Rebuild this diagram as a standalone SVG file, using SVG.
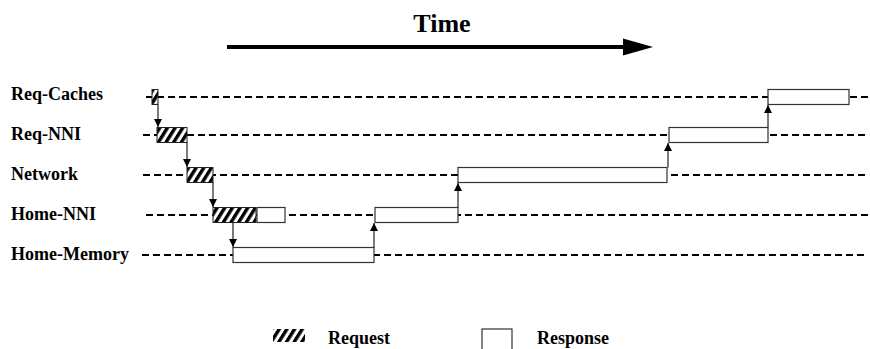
<svg xmlns="http://www.w3.org/2000/svg" width="870" height="349" viewBox="0 0 870 349">
  <defs>
    <pattern id="hatch" patternUnits="userSpaceOnUse" width="6.5" height="10" patternTransform="rotate(32)">
      <rect x="0" y="0" width="6.5" height="10" fill="#fff"/>
      <rect x="0" y="0" width="3.4" height="10" fill="#000"/>
    </pattern>
    <marker id="head" markerUnits="userSpaceOnUse" markerWidth="8" markerHeight="8" refX="8" refY="4" orient="auto">
      <path d="M0,0 L8,4 L0,8 z" fill="#000"/>
    </marker>
  </defs>
  <style>
    .lbl { font-family: "Liberation Serif", "Times New Roman", serif; font-weight: bold; font-size: 18px; fill: #000; }
    .title { font-family: "Liberation Serif", "Times New Roman", serif; font-weight: bold; font-size: 26px; fill: #000; }
    .lane { stroke: #000; stroke-width: 2; stroke-dasharray: 7 4; fill: none; }
    .req { fill: url(#hatch); stroke: #222; stroke-width: 1; }
    .resp { fill: #fff; stroke: #333; stroke-width: 1.2; }
    .conn { stroke: #222; stroke-width: 1.2; fill: none; marker-end: url(#head); }
  </style>

  <rect width="870" height="349" fill="#fff"/>

  <!-- time axis -->
  <g id="time-axis">
    <text class="title" x="442" y="32" text-anchor="middle">Time</text>
    <line x1="227" y1="47" x2="626" y2="47" stroke="#000" stroke-width="4"/>
    <polygon points="623,38.5 653,47 623,55.5" fill="#000"/>
  </g>

  <!-- lane labels -->
  <g id="labels">
    <text class="lbl" x="11" y="100">Req-Caches</text>
    <text class="lbl" x="11" y="140">Req-NNI</text>
    <text class="lbl" x="11" y="180">Network</text>
    <text class="lbl" x="11" y="220">Home-NNI</text>
    <text class="lbl" x="11" y="260">Home-Memory</text>
  </g>

  <!-- lanes -->
  <g id="lanes">
    <line class="lane" x1="146" y1="97" x2="868" y2="97"/>
    <line class="lane" x1="143" y1="135" x2="868" y2="135"/>
    <line class="lane" x1="143" y1="175" x2="868" y2="175"/>
    <line class="lane" x1="146" y1="215" x2="868" y2="215"/>
    <line class="lane" x1="142" y1="255" x2="868" y2="255"/>
  </g>

  <!-- request phases -->
  <g id="req-caches-request"><rect class="req" x="152" y="89.5" width="6" height="15"/></g>
  <g id="req-nni-request"><rect class="req" x="157" y="127.5" width="30" height="15"/></g>
  <g id="network-request"><rect class="req" x="187" y="167.5" width="26" height="15"/></g>
  <g id="home-nni-request"><rect class="req" x="213" y="207.5" width="43" height="15"/></g>

  <!-- response phases -->
  <g id="home-nni-response-a"><rect class="resp" x="257" y="207.5" width="28" height="15"/></g>
  <g id="home-memory-response"><rect class="resp" x="233" y="247.5" width="141" height="15"/></g>
  <g id="home-nni-response-b"><rect class="resp" x="375" y="207.5" width="83" height="15"/></g>
  <g id="network-response"><rect class="resp" x="458" y="167.5" width="209" height="15"/></g>
  <g id="req-nni-response"><rect class="resp" x="669" y="127.5" width="99" height="15"/></g>
  <g id="req-caches-response"><rect class="resp" x="768" y="89.5" width="81" height="15"/></g>

  <!-- connectors -->
  <g id="connectors">
    <line class="conn" x1="158" y1="104.5" x2="158" y2="127"/>
    <line class="conn" x1="187" y1="142.5" x2="187" y2="167"/>
    <line class="conn" x1="213" y1="182.5" x2="213" y2="207"/>
    <line class="conn" x1="233" y1="222.5" x2="233" y2="247"/>
    <line class="conn" x1="374" y1="247.5" x2="374" y2="223"/>
    <line class="conn" x1="458" y1="207.5" x2="458" y2="183"/>
    <line class="conn" x1="668" y1="167.5" x2="668" y2="143"/>
    <line class="conn" x1="768" y1="127.5" x2="768" y2="105"/>
  </g>

  <!-- legend -->
  <g id="legend">
    <rect x="273" y="329" width="32" height="13" fill="url(#hatch)"/>
    <text class="lbl" x="328" y="344">Request</text>
    <rect class="resp" x="482" y="329" width="30" height="30"/>
    <text class="lbl" x="537" y="344">Response</text>
  </g>
</svg>
